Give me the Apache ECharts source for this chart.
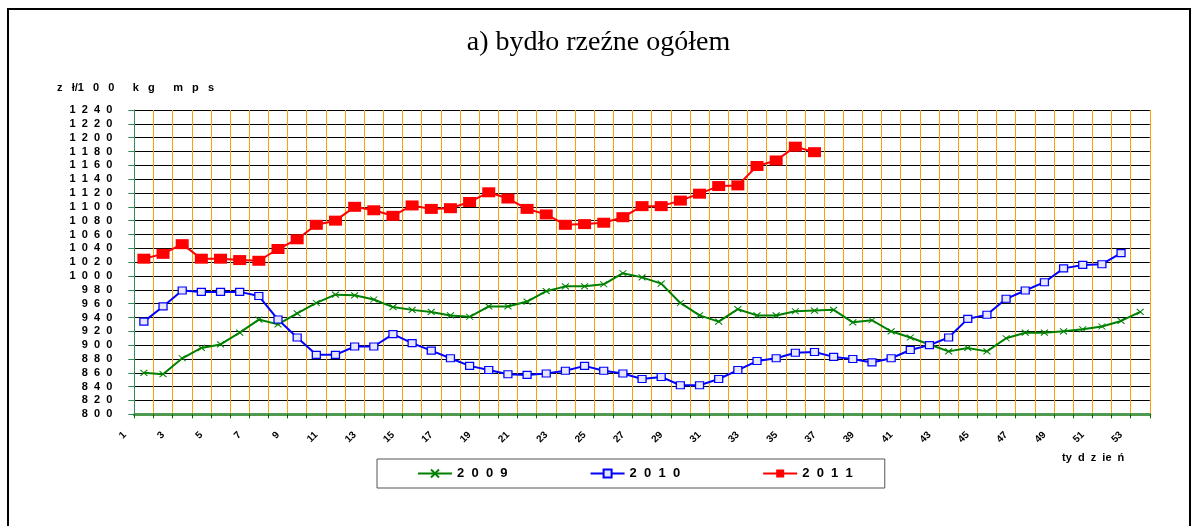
<!DOCTYPE html>
<html>
<head>
<meta charset="utf-8">
<script src="https://cdn.jsdelivr.net/npm/echarts@6/dist/echarts.min.js"></script>
<style>
  html, body { margin: 0; padding: 0; background: #fff; }
  #chart { width: 1197px; height: 526px; }
</style>
</head>
<body>
<div id="chart"></div>
<script>
// tygodnie roku
const weeks = ['1','2','3','4','5','6','7','8','9','10','11','12','13','14','15','16','17','18','19','20',
  '21','22','23','24','25','26','27','28','29','30','31','32','33','34','35','36','37','38','39','40',
  '41','42','43','44','45','46','47','48','49','50','51','52','53'];

// ceny zł/100 kg mps
const y2009 = [860, 858, 881, 896, 901, 918, 937, 930, 946, 961, 973, 972, 966, 955, 951, 948, 943, 941, 956, 956,
  963, 978, 985, 985, 988, 1004, 998, 989, 961, 943, 934, 952, 943, 943, 949, 950, 951, 933, 936, 920,
  911, 901, 891, 896, 891, 910, 918, 918, 920, 923, 927, 935, 948];
const y2010 = [934, 956, 979, 977, 977, 977, 971, 937, 911, 886, 886, 898, 898, 916, 903, 892, 881, 870, 864, 858,
  857, 859, 863, 870, 863, 859, 851, 854, 842, 842, 851, 864, 877, 881, 889, 890, 883, 880, 875, 881,
  893, 900, 911, 938, 944, 967, 979, 991, 1011, 1016, 1017, 1033];
const y2011 = [1025, 1032, 1046, 1025, 1025, 1023, 1022, 1039, 1053, 1074, 1080, 1100, 1095, 1087, 1102, 1097, 1098, 1107, 1121, 1112,
  1097, 1089, 1074, 1075, 1077, 1085, 1101, 1101, 1109, 1119, 1130, 1131, 1159, 1167, 1187, 1179];

const yMin = 800, yMax = 1240, yStep = 20;

// rozstrzelony tekst jak w oryginale
const spaced = s => String(s).split('').join('  ');
const font = '"Liberation Sans", Arial, sans-serif';

const chart = echarts.init(document.getElementById('chart'));
const plotW = 1015.5;
const bandW = plotW / weeks.length;

chart.setOption({
  animation: false,
  backgroundColor: '#fff',
  title: {
    text: 'a) bydło rzeźne ogółem',
    left: 'center',
    top: 24,
    textStyle: { fontFamily: '"Liberation Serif", "Times New Roman", serif', fontSize: 28, fontWeight: 'normal', color: '#000' }
  },
  legend: {
    data: ['2009', '2010', '2011'],
    left: 377,
    top: 459,
    padding: [8, 32, 8, 40],
    itemWidth: 34,
    itemHeight: 10,
    itemGap: 82,
    borderColor: '#555',
    borderWidth: 1,
    formatter: name => spaced(name),
    textStyle: { fontFamily: font, fontSize: 13, fontWeight: 'bold', color: '#000' }
  },
  grid: [
    { left: 134.3, top: 110, width: plotW, height: 304.3 },
    // tylko dla podpisów osi X (przesunięte o jeden tydzień w lewo)
    { left: 134.3 - bandW, top: 110, width: plotW, height: 304.3 }
  ],
  xAxis: [
    {
      type: 'category',
      gridIndex: 0,
      data: weeks,
      boundaryGap: true,
      axisLine: { lineStyle: { color: '#4f9a4f', width: 3 } },
      axisTick: { show: true, interval: 0, length: 4, lineStyle: { color: '#006400' } },
      axisLabel: { show: false },
      splitLine: { show: true, interval: 0, lineStyle: { color: '#ffa000', width: 1 } }
    },
    {
      type: 'category',
      gridIndex: 1,
      data: weeks,
      boundaryGap: true,
      axisLine: { show: false },
      axisTick: { show: false },
      splitLine: { show: false },
      axisLabel: { interval: 1, rotate: 45, margin: 19, fontFamily: font, fontSize: 10, fontWeight: 'bold', color: '#000' }
    }
  ],
  yAxis: [
    {
      type: 'value',
      gridIndex: 0,
      min: yMin,
      max: yMax,
      interval: yStep,
      axisLine: { show: true, lineStyle: { color: '#2e8b57', width: 1 } },
      axisTick: { show: true, length: 6, lineStyle: { color: '#2e8b57' } },
      axisLabel: { margin: 22, formatter: v => spaced(v), fontFamily: font, fontSize: 11, fontWeight: 'bold', color: '#000' },
      splitLine: { show: true, lineStyle: { color: '#000', width: 1 } }
    },
    { type: 'value', gridIndex: 1, min: yMin, max: yMax, show: false }
  ],
  series: [
    {
      name: '2009',
      type: 'line',
      data: y2009,
      symbol: 'path://M0,0L10,10M10,0L0,10',
      symbolSize: [7, 6],
      lineStyle: { color: '#008000', width: 2 },
      itemStyle: { color: '#008000', borderColor: '#008000', borderWidth: 1 },
      z: 3
    },
    {
      name: '2010',
      type: 'line',
      data: y2010,
      symbol: 'rect',
      symbolSize: [8, 7],
      lineStyle: { color: '#0000ff', width: 2 },
      itemStyle: { color: '#e6e6ff', borderColor: '#0000ff', borderWidth: 1.2 },
      z: 4
    },
    {
      name: '2011',
      type: 'line',
      data: y2011,
      symbol: 'rect',
      symbolSize: [13, 10],
      lineStyle: { color: '#ff0000', width: 2 },
      itemStyle: { color: '#ff0000' },
      z: 5
    }
  ],
  graphic: [
    {
      type: 'rect',
      silent: true,
      z: -10,
      shape: { x: 8, y: 9, width: 1182, height: 540 },
      style: { fill: 'none', stroke: '#000', lineWidth: 2 }
    },
    {
      type: 'text',
      left: 57,
      top: 82,
      style: { text: 'z   ł/1   0   0      k   g      m   p   s', font: 'bold 11px ' + font, fill: '#000' }
    },
    {
      type: 'text',
      left: 1062,
      top: 452,
      style: { text: 'ty  d  z  ie  ń', font: 'bold 11px ' + font, fill: '#000' }
    }
  ]
});
</script>
</body>
</html>
